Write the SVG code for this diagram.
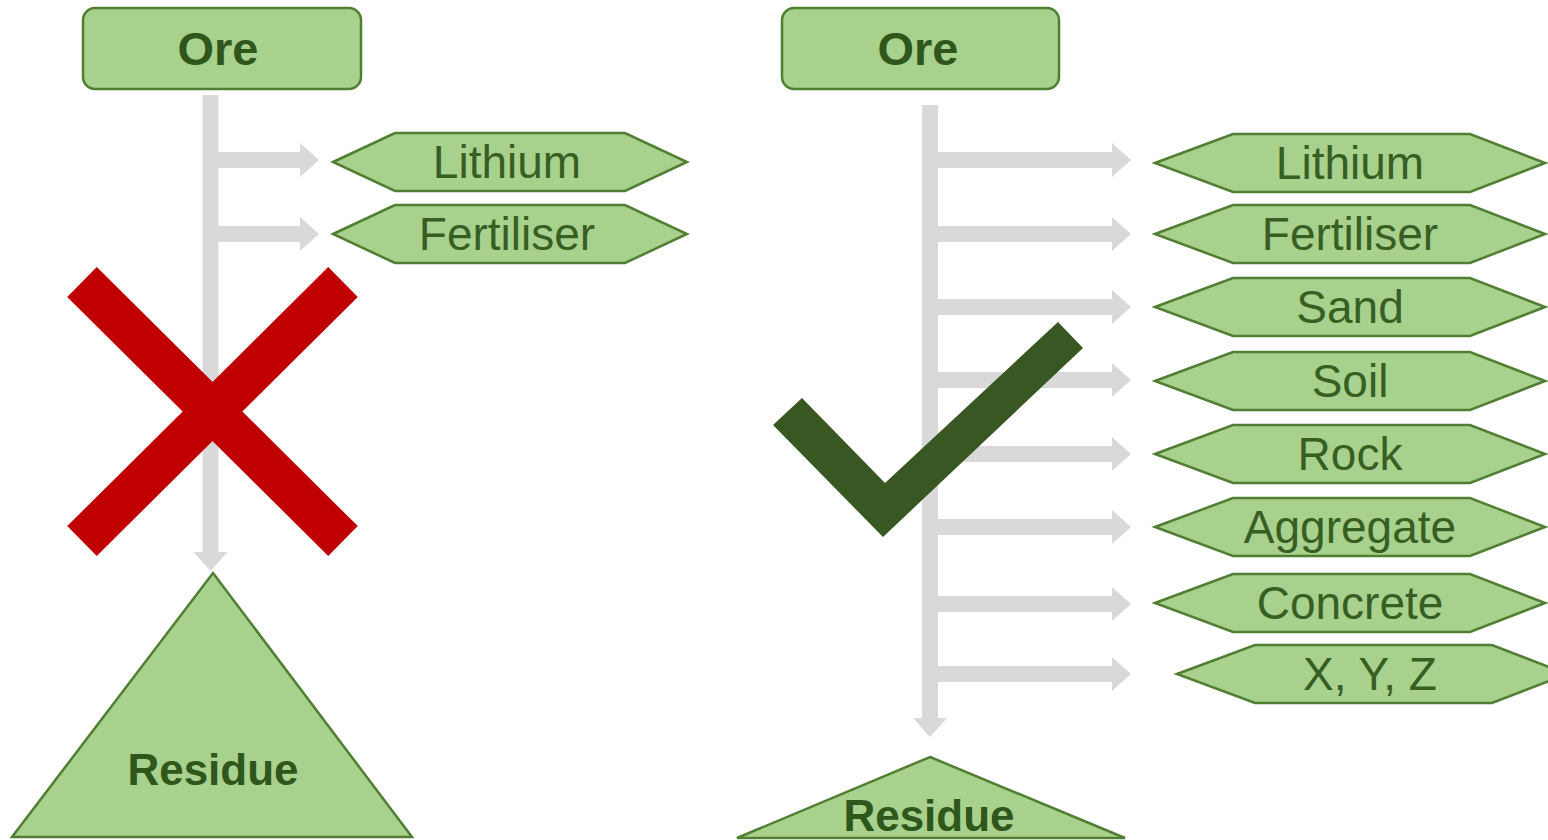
<svg xmlns="http://www.w3.org/2000/svg" width="1548" height="840" viewBox="0 0 1548 840">
  <defs>
    <style>
      .box { fill: #a9d18e; stroke: #507e32; stroke-width: 2.5; }
      .lbl { font-family: "Liberation Sans", Arial, sans-serif; font-size: 46px; fill: #375f23; text-anchor: middle; }
      .bold { font-family: "Liberation Sans", Arial, sans-serif; font-weight: bold; font-size: 44px; fill: #2f571c; text-anchor: middle; }
      .title { font-size: 47px; }
      .flow { stroke: #d9d9d9; stroke-width: 16; fill: none; marker-end: url(#head); }
    </style>
    <marker id="head" markerUnits="userSpaceOnUse" markerWidth="20" markerHeight="34" refX="0" refY="17" orient="auto" overflow="visible">
      <path d="M0,0 L19,17 L0,34 Z" fill="#d9d9d9"/>
    </marker>
    <polygon id="hexR" points="0,0 78,-29 315,-29 390,0 315,29 78,29"/>
    <polygon id="hexL" points="0,0 62,-29 292,-29 354,0 292,29 62,29"/>
  </defs>

  <rect width="1548" height="840" fill="#ffffff"/>

  <!-- connectors -->
  <g id="connectors">
    <!-- left flow -->
    <line class="flow" x1="210.5" y1="95" x2="210.5" y2="552"/>
    <line class="flow" x1="218" y1="160" x2="300" y2="160"/>
    <line class="flow" x1="218" y1="234" x2="300" y2="234"/>
    <!-- right flow -->
    <line class="flow" x1="930" y1="105" x2="930" y2="718"/>
    <line class="flow" x1="937" y1="160" x2="1112" y2="160"/>
    <line class="flow" x1="937" y1="234" x2="1112" y2="234"/>
    <line class="flow" x1="937" y1="307" x2="1112" y2="307"/>
    <line class="flow" x1="937" y1="380" x2="1112" y2="380"/>
    <line class="flow" x1="937" y1="454" x2="1112" y2="454"/>
    <line class="flow" x1="937" y1="527" x2="1112" y2="527"/>
    <line class="flow" x1="937" y1="604" x2="1112" y2="604"/>
    <line class="flow" x1="937" y1="674" x2="1112" y2="674"/>
  </g>

  <!-- left column -->
  <g id="ore-left">
    <rect class="box" x="83" y="8" width="278" height="81" rx="12"/>
    <text class="bold title" x="218" y="65">Ore</text>
  </g>
  <g id="lithium-left">
    <use href="#hexL" class="box" x="333" y="162"/>
    <text class="lbl" x="507" y="178">Lithium</text>
  </g>
  <g id="fertiliser-left">
    <use href="#hexL" class="box" x="333" y="234"/>
    <text class="lbl" x="507" y="250">Fertiliser</text>
  </g>
  <g id="residue-left">
    <polygon class="box" points="213,573 412,837 12,837"/>
    <text class="bold" x="213" y="785">Residue</text>
  </g>
  <g id="cross">
    <line x1="82" y1="282" x2="343" y2="541" stroke="#c00000" stroke-width="42"/>
    <line x1="343" y1="282" x2="82" y2="541" stroke="#c00000" stroke-width="42"/>
  </g>

  <!-- right column -->
  <g id="ore-right">
    <rect class="box" x="782" y="8" width="277" height="81" rx="12"/>
    <text class="bold title" x="918" y="65">Ore</text>
  </g>
  <g id="lithium-right">
    <use href="#hexR" class="box" x="1155" y="163"/>
    <text class="lbl" x="1350" y="179">Lithium</text>
  </g>
  <g id="fertiliser-right">
    <use href="#hexR" class="box" x="1155" y="234"/>
    <text class="lbl" x="1350" y="250">Fertiliser</text>
  </g>
  <g id="sand">
    <use href="#hexR" class="box" x="1155" y="307"/>
    <text class="lbl" x="1350" y="323">Sand</text>
  </g>
  <g id="soil">
    <use href="#hexR" class="box" x="1155" y="381"/>
    <text class="lbl" x="1350" y="397">Soil</text>
  </g>
  <g id="rock">
    <use href="#hexR" class="box" x="1155" y="454"/>
    <text class="lbl" x="1350" y="470">Rock</text>
  </g>
  <g id="aggregate">
    <use href="#hexR" class="box" x="1155" y="527"/>
    <text class="lbl" x="1350" y="543">Aggregate</text>
  </g>
  <g id="concrete">
    <use href="#hexR" class="box" x="1155" y="603"/>
    <text class="lbl" x="1350" y="619">Concrete</text>
  </g>
  <g id="xyz">
    <use href="#hexR" class="box" x="1177" y="674"/>
    <text class="lbl" x="1370" y="690">X, Y, Z</text>
  </g>
  <g id="residue-right">
    <polygon class="box" points="930,757 1125,838 737,838"/>
    <text class="bold" x="929" y="831">Residue</text>
  </g>
  <g id="tick">
    <polygon points="773,425 802,398 885,483 1058,322 1083,348 883,537" fill="#385723"/>
  </g>
</svg>
